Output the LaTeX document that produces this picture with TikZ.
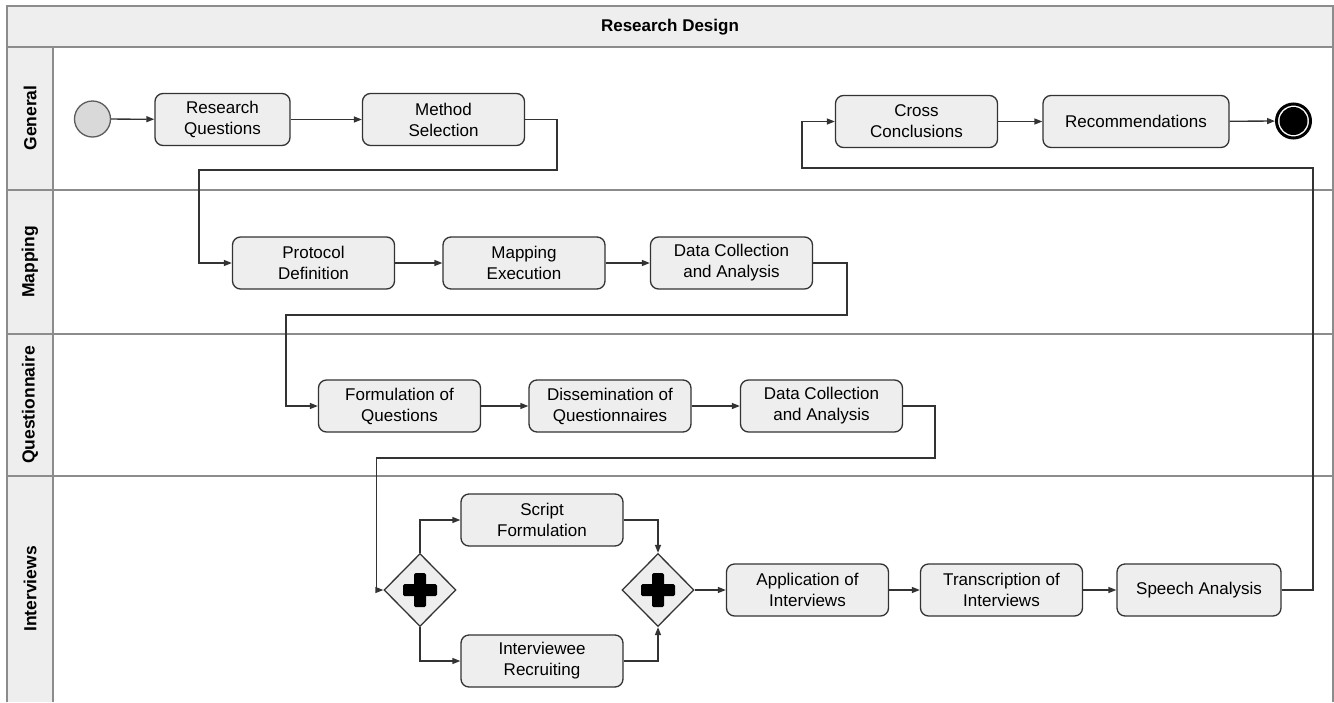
\documentclass[tikz,border=0pt]{standalone}
\usepackage{fontspec}
\setmainfont{Liberation Sans}
\usetikzlibrary{arrows.meta,shapes.geometric,calc}
\definecolor{boxfill}{HTML}{EEEEEE}
\definecolor{boxline}{HTML}{333333}
\definecolor{laneline}{HTML}{8C8C8C}
\definecolor{startfill}{HTML}{D9D9D9}
\begin{document}
\begin{tikzpicture}[x=1pt,y=-1pt,
  task/.style={draw=boxline, fill=boxfill, rounded corners=8pt, line width=1.3pt,
    minimum height=52pt, minimum width=162pt, align=center, inner sep=0pt,
    font=\fontsize{17}{21}\selectfont},
  gate/.style={draw=boxline, fill=boxfill, diamond, line width=1.3pt, inner sep=0pt,
    minimum width=72pt, minimum height=73pt},
  lanelbl/.style={rotate=90, font=\fontsize{17.5}{20}\selectfont\bfseries},
  arr/.style={draw=boxline, line width=1.3pt, -{Triangle[length=8pt,width=6pt]}},
  lane/.style={draw=laneline, line width=1.8pt}]
\useasboundingbox (0,0) rectangle (1334,702);
% frame
\fill[white] (0,0) rectangle (1334,702);
\fill[boxfill] (7,6) rectangle (1333,47);
\fill[boxfill] (7,47) rectangle (53,702);
\draw[lane] (7,702) -- (7,6) -- (1333,6) -- (1333,702);
\draw[lane] (7,47) -- (1333,47);
\draw[lane] (7,190) -- (1333,190);
\draw[lane] (7,334) -- (1333,334);
\draw[lane] (7,476) -- (1333,476);
\draw[lane] (53,47) -- (53,702);
\node[font=\fontsize{17}{20}\selectfont\bfseries] (title) at (670,27) {Research Design};
\node[lanelbl] (lg) at (30,118) {General};
\node[lanelbl] (lm) at (30,262) {Mapping};
\node[lanelbl] (lq) at (30,405) {Questionnaire};
\node[lanelbl] (li) at (30,589) {Interviews};
% General
\node[circle, draw=boxline!80, fill=startfill, line width=1.3pt, minimum size=36pt, inner sep=0pt] (start) at (92.5,119) {};
\node[task, minimum width=135pt] (rq) at (222.5,119.5) {Research\\Questions};
\node[task] (ms) at (443.5,119.5) {Method\\Selection};
\node[task] (cc) at (916.5,121.5) {Cross\\Conclusions};
\node[task, minimum width=186pt] (rec) at (1136,121.5) {Recommendations};
\node[circle, draw=black, fill=white, line width=3pt, minimum size=34pt, inner sep=0pt] (end) at (1293.5,121) {};
\fill[black] (end.center) circle (14);
% Mapping
\node[task] (pd) at (313.5,263) {Protocol\\Definition};
\node[task] (me) at (524,263) {Mapping\\Execution};
\node[task] (dca) at (731.5,263) {Data Collection\\and Analysis};
% Questionnaire
\node[task] (fq) at (399.5,406) {Formulation of\\Questions};
\node[task] (dq) at (610,406) {Dissemination of\\Questionnaires};
\node[task] (dcb) at (821.5,406) {Data Collection\\and Analysis};
% Interviews
\node[gate] (g1) at (420,590) {};
\node[gate] (g2) at (658,590) {};
\foreach \g in {g1,g2}{
  \fill[black, rounded corners=1.5pt] ($(\g.center)+(-17,-6)$) rectangle ($(\g.center)+(17,6)$);
  \fill[black, rounded corners=1.5pt] ($(\g.center)+(-6,-17)$) rectangle ($(\g.center)+(6,17)$);
}
\node[task] (sf) at (542,520) {Script\\Formulation};
\node[task] (ir) at (542,661) {Interviewee\\Recruiting};
\node[task] (ai) at (807.5,590) {Application of\\Interviews};
\node[task] (ti) at (1001.5,590) {Transcription of\\Interviews};
\node[task, minimum width=164pt] (sa) at (1199,590) {Speech Analysis};
% connectors
\draw[arr] (start) -- (rq);
\draw[arr] (rq) -- (ms);
\draw[arr] (ms.east) -| (557,170) -| ($(pd.west)+(-33,0)$) -- (pd.west);
\draw[arr] (pd) -- (me);
\draw[arr] (me) -- (dca);
\draw[arr] (dca.east) -| (847,315) -| ($(fq.west)+(-32,0)$) -- (fq.west);
\draw[arr] (fq) -- (dq);
\draw[arr] (dq) -- (dcb);
\draw[arr] (dcb.east) -| (935,458) -| ($(g1.west)+(-7,0)$) -- (g1.west);
\draw[arr] (g1.north) |- (sf.west);
\draw[arr] (g1.south) |- (ir.west);
\draw[arr] (sf.east) -| (g2.north);
\draw[arr] (ir.east) -| (g2.south);
\draw[arr] (g2) -- (ai);
\draw[arr] (ai) -- (ti);
\draw[arr] (ti) -- (sa);
\draw[arr] (sa.east) -| (1313,168) -| ($(cc.west)+(-33,0)$) -- (cc.west);
\draw[arr] (cc) -- (rec);
\draw[arr] (rec) -- (end);
\end{tikzpicture}
\end{document}
